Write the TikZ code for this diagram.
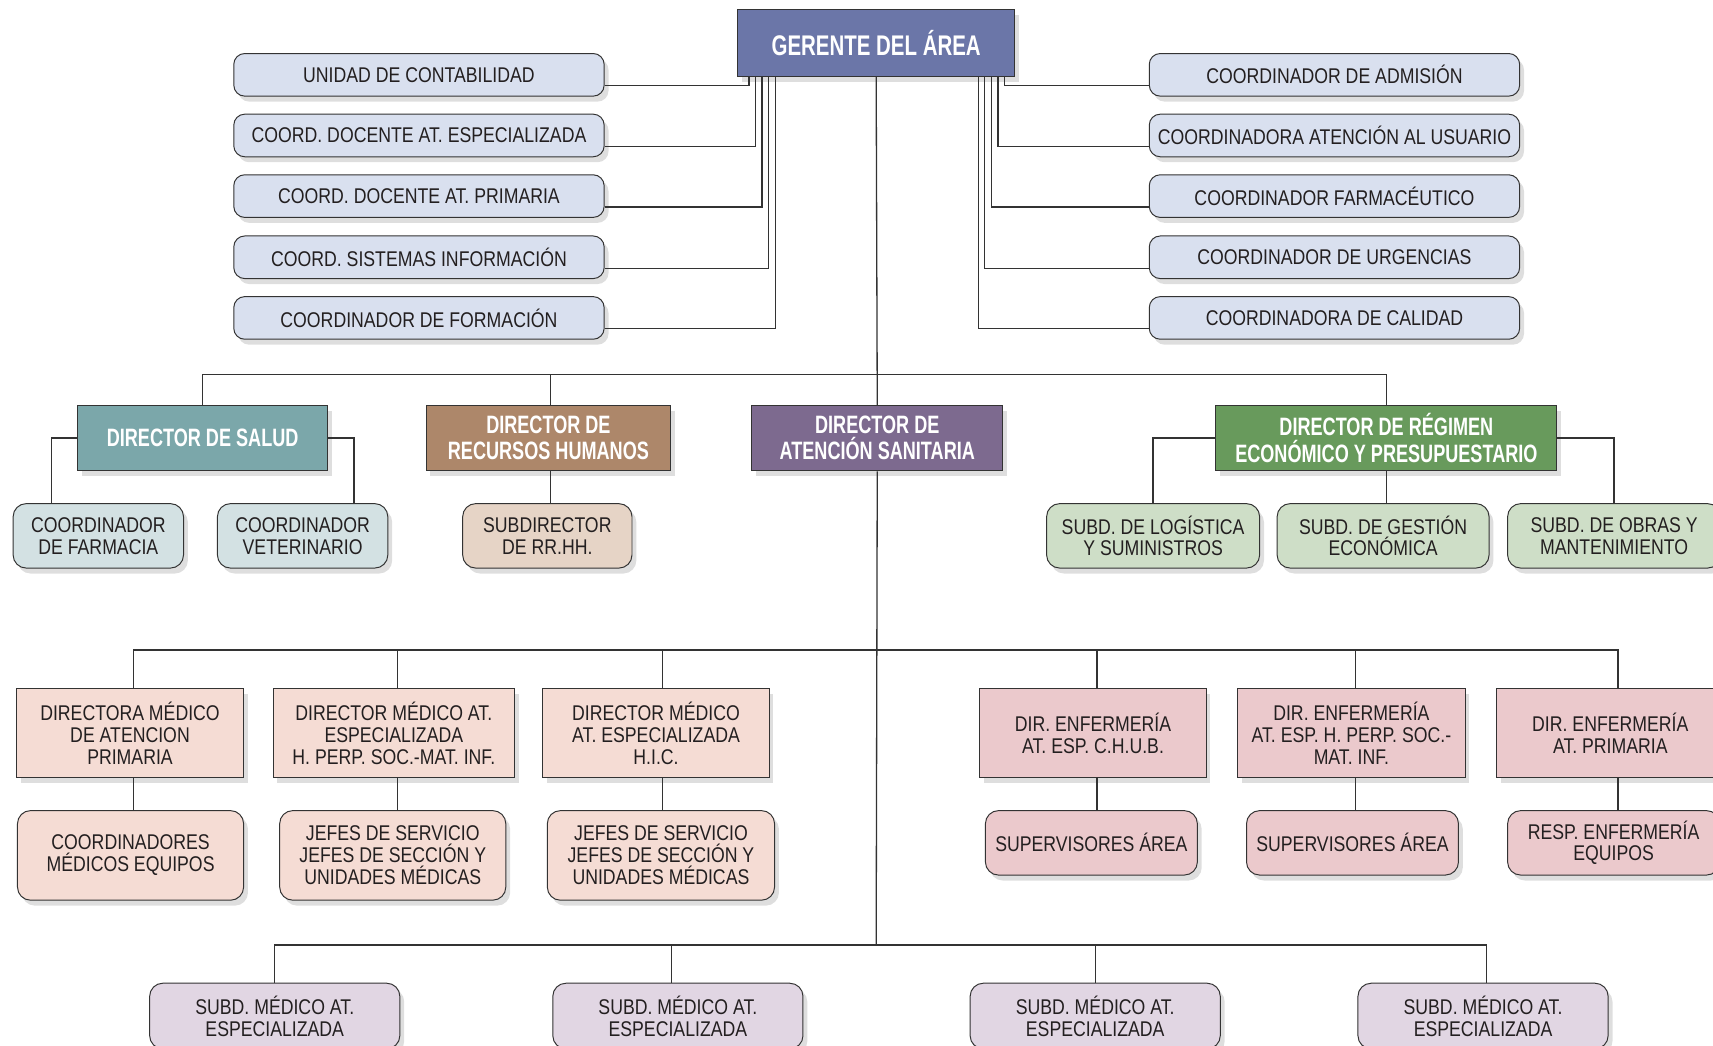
\documentclass[tikz,border=0pt]{standalone}
\usepackage{fontspec}
\setmainfont{Liberation Sans}[FakeStretch=0.83, BoldFeatures={FakeStretch=0.72}]
\usetikzlibrary{calc,shadows}
\definecolor{ink}{HTML}{231F20}
\definecolor{edge}{HTML}{333333}
\definecolor{gerbg}{HTML}{6B76A8}
\definecolor{coordbg}{HTML}{D9E0EF}
\definecolor{tealbg}{HTML}{7BA7AA}
\definecolor{brownbg}{HTML}{AD876A}
\definecolor{purplebg}{HTML}{7D6A8F}
\definecolor{greenbg}{HTML}{689A5C}
\definecolor{ltealbg}{HTML}{D3E1E3}
\definecolor{lbrownbg}{HTML}{E6D4C6}
\definecolor{lgreenbg}{HTML}{CEDEC7}
\definecolor{salmonbg}{HTML}{F5DCD4}
\definecolor{pinkbg}{HTML}{EBC9CC}
\definecolor{lilacbg}{HTML}{E1D6E3}
\tikzset{
  conn/.style={draw=edge, line width=1.2pt},
  box/.style={draw=edge, line width=0.9pt, align=center, inner sep=2pt, text=ink,
    drop shadow={fill=black, opacity=0.13, shadow xshift=4pt, shadow yshift=-5pt}},
  chiefbox/.style={box, fill=gerbg, text=white, font=\bfseries\fontsize{26}{30}\selectfont,
    minimum width=254pt, minimum height=61pt},
  coordbox/.style={box, rounded corners=10pt, fill=coordbg, font=\fontsize{19.5}{20.5}\selectfont,
    minimum width=339pt, minimum height=39pt},
  dirbox/.style={box, text=white, font=\bfseries\fontsize{23}{24}\selectfont, minimum height=60pt},
  subbox/.style={box, rounded corners=12pt, font=\fontsize{19.5}{20}\selectfont, minimum height=59pt},
  medbox/.style={box, font=\fontsize{19.5}{20}\selectfont, minimum height=82pt},
}
\begin{document}
\begin{tikzpicture}[x=1pt, y=-1pt]
  \fill[white] (0,0) rectangle (1568,957);
  \useasboundingbox (0,0) rectangle (1568,957);

  \coordinate (b2) at (802,343);
  \coordinate (b3) at (802,595);
  \coordinate (b5) at (802,865);

  \node[chiefbox] (ger) at (802,39.5) {GERENTE DEL ÁREA};

  % coordinadores
  \node[coordbox] (cl1) at (383.5,68.5) {UNIDAD DE CONTABILIDAD};
  \node[coordbox] (cl2) at (383.5,124) {COORD. DOCENTE AT. ESPECIALIZADA};
  \node[coordbox] (cl3) at (383.5,179.5) {COORD. DOCENTE AT. PRIMARIA};
  \node[coordbox] (cl4) at (383.5,235.5) {COORD. SISTEMAS INFORMACIÓN};
  \node[coordbox] (cl5) at (383.5,291) {COORDINADOR DE FORMACIÓN};
  \node[coordbox] (cr1) at (1221.5,68.5) {COORDINADOR DE ADMISIÓN};
  \node[coordbox] (cr2) at (1221.5,124) {COORDINADORA ATENCIÓN AL USUARIO};
  \node[coordbox] (cr3) at (1221.5,179.5) {COORDINADOR FARMACÉUTICO};
  \node[coordbox] (cr4) at (1221.5,235.5) {COORDINADOR DE URGENCIAS};
  \node[coordbox] (cr5) at (1221.5,291) {COORDINADORA DE CALIDAD};

  % directores
  \node[dirbox, fill=tealbg, minimum width=229pt] (dsal) at (185.5,401) {DIRECTOR DE SALUD};
  \node[dirbox, fill=brownbg, minimum width=224pt] (drh) at (502,401) {DIRECTOR DE\\RECURSOS HUMANOS};
  \node[dirbox, fill=purplebg, minimum width=230pt] (das) at (803,401) {DIRECTOR DE\\ATENCIÓN SANITARIA};
  \node[dirbox, fill=greenbg, minimum width=312pt] (dreg) at (1269,401) {DIRECTOR DE RÉGIMEN\\ECONÓMICO Y PRESUPUESTARIO};

  \node[subbox, fill=ltealbg, minimum width=156pt] (cfar) at (90,490.5) {COORDINADOR\\DE FARMACIA};
  \node[subbox, fill=ltealbg, minimum width=156pt] (cvet) at (277,490.5) {COORDINADOR\\VETERINARIO};
  \node[subbox, fill=lbrownbg, minimum width=155pt] (srh) at (501,490.5) {SUBDIRECTOR\\DE RR.HH.};
  \node[subbox, fill=lgreenbg, minimum width=195pt] (slog) at (1055.5,490.5) {SUBD. DE LOGÍSTICA\\Y SUMINISTROS};
  \node[subbox, fill=lgreenbg, minimum width=194pt] (sges) at (1266,490.5) {SUBD. DE GESTIÓN\\ECONÓMICA};
  \node[subbox, fill=lgreenbg, minimum width=195pt] (sobr) at (1477.5,490.5) {SUBD. DE OBRAS Y\\MANTENIMIENTO};

  % direcciones medicas y de enfermeria
  \node[medbox, fill=salmonbg, minimum width=208pt] (mprim) at (119,671) {DIRECTORA MÉDICO\\DE ATENCION\\PRIMARIA};
  \node[medbox, fill=salmonbg, minimum width=221pt] (mesp1) at (360.5,671) {DIRECTOR MÉDICO AT.\\ESPECIALIZADA\\H. PERP. SOC.-MAT. INF.};
  \node[medbox, fill=salmonbg, minimum width=207pt] (mesp2) at (600.5,671) {DIRECTOR MÉDICO\\AT. ESPECIALIZADA\\H.I.C.};
  \node[medbox, fill=pinkbg, minimum width=207pt] (enf1) at (1000.5,671) {DIR. ENFERMERÍA\\AT. ESP. C.H.U.B.};
  \node[medbox, fill=pinkbg, minimum width=208pt] (enf2) at (1237,671) {DIR. ENFERMERÍA\\AT. ESP. H. PERP. SOC.-\\MAT. INF.};
  \node[medbox, fill=pinkbg, minimum width=208pt] (enf3) at (1474,671) {DIR. ENFERMERÍA\\AT. PRIMARIA};

  \node[subbox, fill=salmonbg, minimum width=207pt, minimum height=82pt] (cmeq) at (119.5,783) {COORDINADORES\\MÉDICOS EQUIPOS};
  \node[subbox, fill=salmonbg, minimum width=207pt, minimum height=82pt] (jef1) at (359.5,783) {JEFES DE SERVICIO\\JEFES DE SECCIÓN Y\\UNIDADES MÉDICAS};
  \node[subbox, fill=salmonbg, minimum width=208pt, minimum height=82pt] (jef2) at (605,783) {JEFES DE SERVICIO\\JEFES DE SECCIÓN Y\\UNIDADES MÉDICAS};
  \node[subbox, fill=pinkbg, minimum width=194pt] (sup1) at (999,771.5) {SUPERVISORES ÁREA};
  \node[subbox, fill=pinkbg, minimum width=194pt] (sup2) at (1238,771.5) {SUPERVISORES ÁREA};
  \node[subbox, fill=pinkbg, minimum width=194pt] (resp) at (1477,771.5) {RESP. ENFERMERÍA\\EQUIPOS};

  \node[subbox, fill=lilacbg, minimum width=229pt, minimum height=60pt] (sme1) at (251.5,930) {SUBD. MÉDICO AT.\\ESPECIALIZADA};
  \node[subbox, fill=lilacbg, minimum width=229pt, minimum height=60pt] (sme2) at (620.5,930) {SUBD. MÉDICO AT.\\ESPECIALIZADA};
  \node[subbox, fill=lilacbg, minimum width=229pt, minimum height=60pt] (sme3) at (1002.5,930) {SUBD. MÉDICO AT.\\ESPECIALIZADA};
  \node[subbox, fill=lilacbg, minimum width=229pt, minimum height=60pt] (sme4) at (1357.5,930) {SUBD. MÉDICO AT.\\ESPECIALIZADA};

  % lineas del gerente
  \draw[conn] ([yshift=-10pt]cl1.east) -| ([xshift=11pt]ger.south west);
  \draw[conn] ([yshift=-10pt]cl2.east) -| ([xshift=17pt]ger.south west);
  \draw[conn] ([yshift=-10pt]cl3.east) -| ([xshift=23pt]ger.south west);
  \draw[conn] ([yshift=-10pt]cl4.east) -| ([xshift=29pt]ger.south west);
  \draw[conn] ([yshift=-10pt]cl5.east) -| ([xshift=35pt]ger.south west);
  \draw[conn] ([yshift=-10pt]cr1.west) -| ([xshift=-10pt]ger.south east);
  \draw[conn] ([yshift=-10pt]cr2.west) -| ([xshift=-16pt]ger.south east);
  \draw[conn] ([yshift=-10pt]cr3.west) -| ([xshift=-22pt]ger.south east);
  \draw[conn] ([yshift=-10pt]cr4.west) -| ([xshift=-28pt]ger.south east);
  \draw[conn] ([yshift=-10pt]cr5.west) -| ([xshift=-34pt]ger.south east);

  \draw[conn] (ger.south) -- (das.north);
  \draw[conn] (dsal.north) |- (b2) -| (dreg.north);
  \draw[conn] ([xshift=2pt]drh.north) -- ([xshift=2pt]drh.north |- b2);

  \draw[conn] (dsal.west) -| ([xshift=-43pt]cfar.north);
  \draw[conn] (dsal.east) -| ([xshift=47pt]cvet.north);
  \draw[conn] ([xshift=2pt]drh.south) -- ([xshift=2pt]drh.south |- srh.north);
  \draw[conn] (dreg.west) -| (slog.north);
  \draw[conn] (dreg.south) -- (dreg.south |- sges.north);
  \draw[conn] (dreg.east) -| (sobr.north);

  % atencion sanitaria
  \draw[conn] (das.south) -- (b5);
  \draw[conn] ([xshift=3pt]mprim.north) |- (b3) -| ([xshift=7pt]enf3.north);
  \draw[conn] ([xshift=3.5pt]mesp1.north) -- ([xshift=3.5pt]mesp1.north |- b3);
  \draw[conn] ([xshift=6pt]mesp2.north) -- ([xshift=6pt]mesp2.north |- b3);
  \draw[conn] ([xshift=3.5pt]enf1.north) -- ([xshift=3.5pt]enf1.north |- b3);
  \draw[conn] ([xshift=3.5pt]enf2.north) -- ([xshift=3.5pt]enf2.north |- b3);
  \draw[conn] ([xshift=3pt]mprim.south) -- ([xshift=3pt]mprim.south |- cmeq.north);
  \draw[conn] ([xshift=3.5pt]mesp1.south) -- ([xshift=3.5pt]mesp1.south |- jef1.north);
  \draw[conn] ([xshift=6pt]mesp2.south) -- ([xshift=6pt]mesp2.south |- jef2.north);
  \draw[conn] ([xshift=3.5pt]enf1.south) -- ([xshift=3.5pt]enf1.south |- sup1.north);
  \draw[conn] ([xshift=3.5pt]enf2.south) -- ([xshift=3.5pt]enf2.south |- sup2.north);
  \draw[conn] ([xshift=7pt]enf3.south) -- ([xshift=7pt]enf3.south |- resp.north);

  \draw[conn] (sme1.north) |- (b5) -| ([xshift=3pt]sme4.north);
  \draw[conn] ([xshift=-6pt]sme2.north) -- ([xshift=-6pt]sme2.north |- b5);
  \draw[conn] (sme3.north) -- (sme3.north |- b5);
\end{tikzpicture}
\end{document}
